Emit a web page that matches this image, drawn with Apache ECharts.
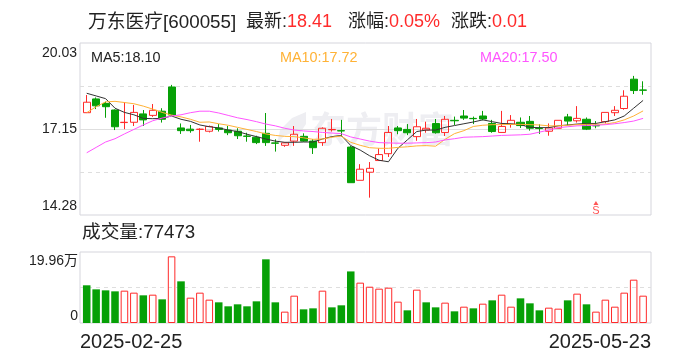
<!DOCTYPE html>
<html><head><meta charset="utf-8">
<style>html,body{margin:0;padding:0;background:#fff}#c{width:688px;height:360px}</style>
<script src="https://cdn.jsdelivr.net/npm/echarts@6/dist/echarts.min.js"></script>
</head><body><div id="c"></div>
<script>
// [open, close, low, high]
const candles = [
[17.70,18.05,17.70,18.29],[18.16,17.93,17.82,18.21],[18.01,17.90,17.53,18.07],[17.79,17.23,17.12,17.81],[17.37,17.38,17.15,18.05],
[17.38,17.71,17.255,17.96],[17.66,17.46,17.255,17.79],[17.61,17.78,17.56,17.99],[17.75,17.48,17.37,17.85],[18.56,17.62,17.59,18.63],
[17.19,17.10,16.99,17.34],[17.15,17.10,17.03,17.29],[17.14,17.15,16.73,17.18],[17.08,17.24,17.04,17.27],[17.19,17.14,17.07,17.32],
[17.12,17.03,16.95,17.255],[17.08,16.93,16.82,17.18],[16.92,16.91,16.73,17.03],[16.88,16.70,16.65,16.93],[17.01,16.70,16.59,17.69],
[16.69,16.68,16.40,16.81],[16.61,16.69,16.56,16.71],[16.75,16.98,16.59,17.255],[16.91,16.75,16.73,17.01],[16.75,16.53,16.32,16.82],
[16.70,17.18,16.59,17.21],[17.13,17.14,17.07,17.49],[17.10,17.09,16.90,17.46],[16.55,15.36,15.36,16.59],[15.44,15.81,15.44,15.98],
[15.71,15.84,14.86,16.05],[16.10,16.30,16.10,16.51],[16.33,17.04,16.22,17.255],[17.19,17.10,16.98,17.255],[17.14,17.03,16.95,17.32],
[16.90,17.23,16.76,17.49],[17.12,17.18,17.03,17.40],[17.34,17.03,17.00,17.49],[17.04,17.48,16.92,17.59],[17.445,17.43,17.29,17.57],
[17.59,17.52,17.46,17.79],[17.51,17.50,17.32,17.57],[17.59,17.49,17.445,17.76],[17.34,17.07,17.03,17.46],[17.04,17.24,17.04,17.76],
[17.31,17.445,17.20,17.62],[17.38,17.27,17.19,17.54],[17.41,17.18,17.10,17.59],[17.18,17.17,16.99,17.31],[17.08,17.19,16.93,17.34],
[17.18,17.445,17.18,17.445],[17.56,17.42,17.28,17.66],[17.43,17.51,17.37,17.92],[17.48,17.15,17.12,17.54],[17.27,17.26,17.18,17.42],
[17.40,17.71,17.34,17.71],[17.70,17.78,17.59,17.92],[17.84,18.25,17.80,18.45],[18.82,18.44,18.325,18.93],[18.46,18.45,18.30,18.75]];
const ma5 = [18.35,18.26,18.17,17.85,17.71,17.63,17.51,17.50,17.51,17.59,17.48,17.41,17.29,17.23,17.19,17.12,17.07,16.98,16.90,16.82,16.75,16.71,16.71,16.72,16.72,16.82,16.90,16.94,16.60,16.45,16.26,16.11,16.06,16.51,16.79,17.07,17.12,17.12,17.21,17.27,17.33,17.39,17.46,17.40,17.34,17.33,17.30,17.21,17.20,17.20,17.26,17.29,17.32,17.34,17.34,17.40,17.46,17.59,17.85,18.11];
const ma10 = [17.70,17.90,18.06,18.08,18.04,18.00,17.92,17.82,17.71,17.62,17.56,17.48,17.38,17.39,17.33,17.28,17.21,17.14,17.07,16.99,16.94,16.91,16.90,16.86,16.81,16.82,16.88,16.92,16.71,16.61,16.53,16.51,16.51,16.54,16.56,16.59,16.60,16.58,16.81,17.00,17.10,17.24,17.28,17.30,17.30,17.31,17.31,17.30,17.29,17.26,17.26,17.28,17.30,17.31,17.31,17.32,17.37,17.46,17.59,17.76];
const ma20 = [16.36,16.54,16.72,16.83,16.99,17.14,17.29,17.43,17.52,17.59,17.63,17.70,17.75,17.75,17.69,17.61,17.53,17.47,17.40,17.32,17.26,17.18,17.12,17.09,17.07,17.04,17.02,17.00,16.89,16.82,16.75,16.70,16.69,16.68,16.68,16.69,16.70,16.72,16.79,16.83,16.88,16.89,16.90,16.92,16.94,16.95,16.96,16.98,17.05,17.12,17.20,17.23,17.26,17.27,17.28,17.30,17.33,17.37,17.42,17.51];
const volumes = [10.6,9.46,9.18,8.9,9.09,8.53,7.78,7.96,6.65,18.74,11.71,7.12,8.53,6.56,5.81,4.69,5.25,4.69,6.09,17.9,5.81,3.19,7.68,3.84,4.12,9.09,4.4,4.97,14.5,11.34,10.2,9.65,9.93,6.0,3.56,9.37,5.81,4.4,5.72,3.28,4.59,4.12,5.43,6.37,7.96,4.59,6.93,5.53,3.56,4.31,4.03,6.37,8.25,5.25,3.19,6.56,4.59,8.53,12.18,7.68];
const volumeRising = [0,0,0,0,1,1,0,1,0,1,0,1,1,1,0,0,0,0,0,0,0,1,1,0,0,1,0,0,0,1,1,1,1,1,0,1,0,0,1,0,1,0,1,0,1,1,0,0,0,1,1,0,1,0,1,1,1,1,1,1];
const sMarkerIndex = 54, sMarkerPrice = 14.68;
const priceTicks = ['14.28','17.15','20.03'];
const priceRange = [14.28,20.03];
const volumeTicks = ['0','19.96万'];
const volumeMax = 19.96;
const dateLabels = ['2025-02-25','2025-05-23'];
const stockName = '万东医疗[600055]';
const heads = [['最新:','18.41'],['涨幅:','0.05%'],['涨跌:','0.01']];
const maLabels = ['MA5:18.10','MA10:17.72','MA20:17.50'];
const volumeLabel = '成交量:77473';
const watermark = '东方财富';

const RED='#ff2a2a',GREEN='#06a006',FONT='"Liberation Sans","Noto Sans CJK SC",sans-serif';
const cats = candles.map((_,i)=>i);
const FRAME='#d5d5dc',LINE='#dedede';
const txt=(left,top,text,color,size)=>({left:left-5,top:top-5,text,textStyle:{color,fontSize:size,fontWeight:'normal',fontFamily:FONT}});
const head=(left,top,p)=>({left:left-5,top:top-5,text:`{k|${p[0]}}{v|${p[1]}}`,textStyle:{rich:{
  k:{fontSize:18,fontWeight:'normal',color:'#222',fontFamily:FONT},v:{fontSize:18,fontWeight:'normal',color:RED,fontFamily:FONT}}}});
const frameCat=(g)=>({type:'category',gridIndex:g,data:[0,1],show:false});
const dashed={show:true,showMinLine:false,showMaxLine:false,lineStyle:{color:LINE,type:[4,4],width:1}};
const tickText={fontSize:14,color:'#222',fontFamily:FONT};
const tickRich=(topPad,bottomPad)=>({t:{...tickText,padding:[topPad,0,0,0]},b:{...tickText,padding:[0,0,bottomPad,0]},m:{...tickText}});
const tickFmt=(ticks)=>(v,i)=>{const key=v===0?'b':(v===ticks.length-1?'t':'m');return `{${key}|${ticks[v]}}`;};

const option={
  animation:false,backgroundColor:'#fff',
  title:[
    txt(88,13,stockName,'#222',18.8),
    head(246,13,heads[0]),head(348,13,heads[1]),head(451,13,heads[2]),
    txt(91,51,maLabels[0],'#222',14.4),txt(280,51,maLabels[1],'#ffb236',14.4),txt(480,51,maLabels[2],'#ff55ff',14.4),
    txt(82,224,volumeLabel,'#222',18.7)
  ],
  graphic:[
    {type:'text',z:-1,left:310,top:115,style:{text:watermark,fontSize:36,fontWeight:'bold',fill:'#eeeef2',fontFamily:FONT}},
    {type:'polygon',z:-1,shape:{points:[[306,112],[292,118],[280,130],[277,144],[284,136],[294,132],[288,142],[290,148],[298,136],[306,124]]},style:{fill:'#eeeef2'}}
  ],
  grid:[
    {left:82,width:565.8,top:43,height:172,show:false},
    {left:82,width:565.8,top:252,height:71,show:false},
    {left:80,width:571,top:43,height:172,show:true,borderColor:FRAME,borderWidth:1,backgroundColor:'transparent'},
    {left:80,width:571,top:252,height:71,show:true,borderColor:FRAME,borderWidth:1,backgroundColor:'transparent'}
  ],
  xAxis:[
    {type:'category',gridIndex:0,data:cats,show:false},
    {type:'category',gridIndex:1,data:cats,show:false},
    frameCat(2),
    {type:'category',gridIndex:3,data:dateLabels,boundaryGap:false,axisLine:{show:false},axisTick:{show:false},splitLine:{show:false},
      axisLabel:{show:true,interval:0,margin:9,fontSize:20,color:'#222',fontFamily:FONT,alignMinLabel:'left',alignMaxLabel:'right'}}
  ],
  yAxis:[
    {type:'value',gridIndex:0,min:priceRange[0],max:priceRange[1],show:false},
    {type:'value',gridIndex:1,min:0,max:volumeMax,show:false},
    {type:'value',gridIndex:2,min:0,max:2,interval:1,axisLine:{show:false},axisTick:{show:false},
      splitLine:{show:true,showMinLine:false,showMaxLine:false,lineStyle:{color:LINE,width:1}},
      axisLabel:{margin:3,formatter:tickFmt(priceTicks),rich:tickRich(3,2),verticalAlignMinLabel:'bottom',verticalAlignMaxLabel:'top'}},
    {type:'value',gridIndex:2,min:0,max:4,interval:1,axisLine:{show:false},axisTick:{show:false},axisLabel:{show:false},splitLine:dashed},
    {type:'value',gridIndex:3,min:0,max:1,interval:1,axisLine:{show:false},axisTick:{show:false},splitLine:{show:false},
      axisLabel:{margin:2,formatter:tickFmt(volumeTicks),rich:tickRich(2,0),verticalAlignMinLabel:'bottom',verticalAlignMaxLabel:'top'}},
    {type:'value',gridIndex:3,min:0,max:2,interval:1,axisLine:{show:false},axisTick:{show:false},axisLabel:{show:false},splitLine:dashed}
  ],
  series:[
    {type:'candlestick',xAxisIndex:0,yAxisIndex:0,data:candles,barWidth:'80%',
      itemStyle:{color:'transparent',color0:GREEN,borderColor:RED,borderColor0:GREEN,borderWidth:1}},
    ...[[ma5,'#333333'],[ma10,'#ffb236'],[ma20,'#ff55ff']].map(([d,c])=>({type:'line',xAxisIndex:0,yAxisIndex:0,data:d,symbol:'none',smooth:false,z:5,lineStyle:{color:c,width:1}})),
    {type:'scatter',xAxisIndex:0,yAxisIndex:0,symbol:'triangle',symbolSize:[5,4],z:6,
      itemStyle:{color:RED},data:[[sMarkerIndex,sMarkerPrice]],
      label:{show:true,formatter:'S',position:'bottom',distance:0,color:RED,fontSize:11,fontFamily:FONT}},
    {type:'bar',xAxisIndex:1,yAxisIndex:1,barWidth:'80%',
      data:volumes.map((v,i)=>({value:v,itemStyle:volumeRising[i]?{color:'transparent',borderColor:RED,borderWidth:1}:{color:GREEN}}))}
  ]
};
echarts.init(document.getElementById('c'),null,{renderer:'canvas'}).setOption(option);
</script></body></html>
